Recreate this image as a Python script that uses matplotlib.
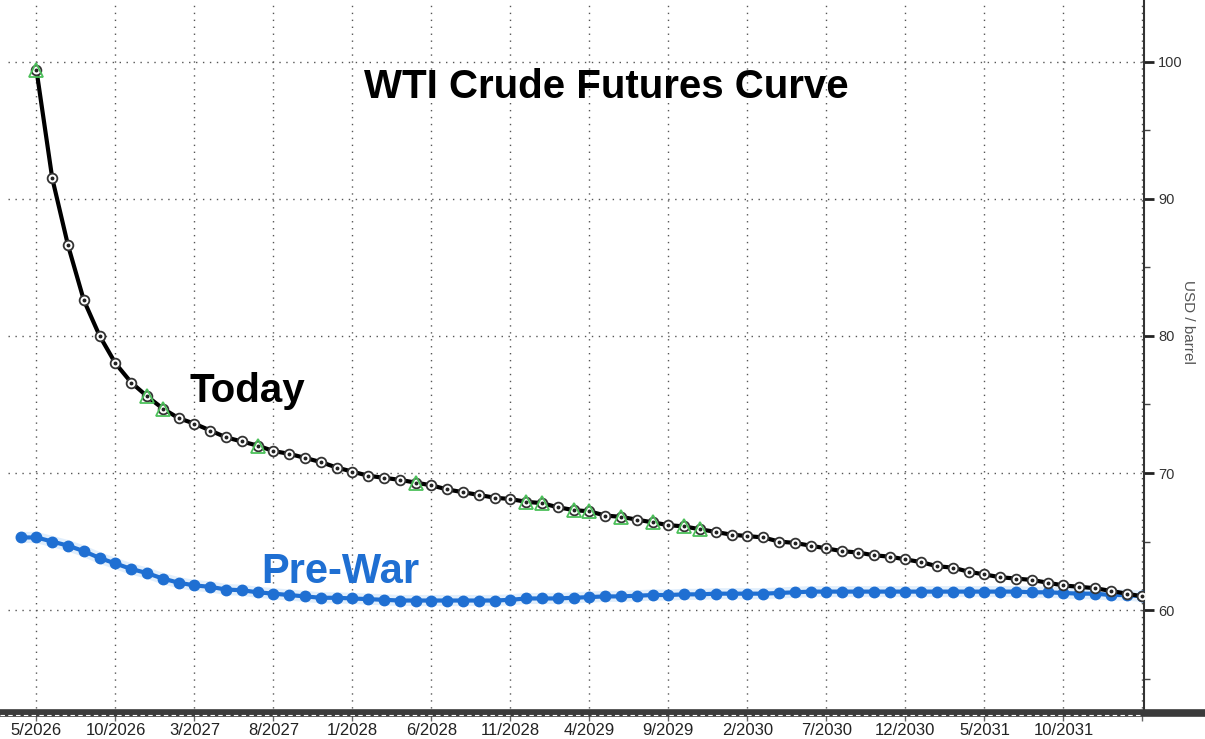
import numpy as np
import matplotlib.pyplot as plt
from matplotlib.lines import Line2D

plt.rcParams['font.family'] = ['Liberation Sans', 'DejaVu Sans']

# month index: 0 = 5/2026, monthly contracts
tick_labels = ["5/2026", "10/2026", "3/2027", "8/2027", "1/2028", "6/2028",
               "11/2028", "4/2029", "9/2029", "2/2030", "7/2030", "12/2030",
               "5/2031", "10/2031", ""]

today = [99.4, 91.5, 86.6, 82.6, 80.0, 78.0, 76.6, 75.6, 74.7, 74.0,
         73.6, 73.1, 72.6, 72.3, 72.0, 71.6, 71.4, 71.1, 70.8, 70.4,
         70.1, 69.8, 69.65, 69.5, 69.3, 69.1, 68.8, 68.6, 68.4, 68.2,
         68.1, 67.9, 67.8, 67.5, 67.3, 67.2, 66.9, 66.8, 66.6, 66.4,
         66.2, 66.1, 65.9, 65.7, 65.5, 65.4, 65.3, 65.0, 64.9, 64.7,
         64.5, 64.3, 64.2, 64.0, 63.9, 63.7, 63.5, 63.2, 63.1, 62.8,
         62.6, 62.4, 62.3, 62.2, 62.0, 61.8, 61.7, 61.6, 61.4, 61.2,
         61.0]

# pre-war curve starts one month earlier (4/2026)
prewar = [65.3, 65.3, 65.0, 64.7, 64.3, 63.8, 63.4, 63.0, 62.7, 62.3,
          62.0, 61.8, 61.7, 61.5, 61.45, 61.3, 61.2, 61.1, 61.0, 60.9,
          60.9, 60.85, 60.8, 60.75, 60.7, 60.7, 60.7, 60.7, 60.7, 60.7,
          60.7, 60.75, 60.85, 60.85, 60.85, 60.9, 60.95, 61.0, 61.0, 61.05,
          61.1, 61.1, 61.15, 61.15, 61.2, 61.2, 61.2, 61.2, 61.25, 61.3,
          61.35, 61.35, 61.35, 61.35, 61.35, 61.35, 61.35, 61.35, 61.35, 61.35,
          61.35, 61.35, 61.35, 61.35, 61.3, 61.3, 61.25, 61.2, 61.2, 61.1,
          61.1, 61.0]

# contracts flagged with green triangles
flagged = [0, 7, 8, 14, 24, 31, 32, 34, 35, 37, 39, 41, 42]

x_today = np.arange(len(today))
x_pre = np.arange(len(prewar)) - 1
today = np.array(today)

BLUE = '#1f6fd2'

fig = plt.figure(figsize=(12.05, 7.39), dpi=100)
ax = fig.add_axes([8 / 1205, 24 / 739, 1136 / 1205, 715 / 739])

# grid
grid_kw = dict(color='#555555', linewidth=1.0, linestyle=(0, (1, 4)))
ax.set_xticks(np.arange(0, 71, 5))
ax.set_xticklabels(tick_labels)
ax.grid(True, **grid_kw)
ax.set_axisbelow(True)

# pre-war curve (with soft glow)
ax.plot(x_pre, prewar, color='#9cc8f5', linewidth=8, alpha=0.3,
        solid_capstyle='round', zorder=2)
ax.plot(x_pre, prewar, color=BLUE, linewidth=3, marker='o', markersize=7.5,
        markerfacecolor=BLUE, markeredgecolor=BLUE, zorder=3)

# today curve
ax.plot(x_today, today, color='black', linewidth=3, zorder=4)
ax.plot(x_today, today, linestyle='none', marker='o', markersize=7,
        markerfacecolor='white', markeredgecolor='#333333',
        markeredgewidth=1.3, zorder=5)
ax.plot(x_today, today, linestyle='none', marker='o', markersize=1.8,
        color='#222222', zorder=6)
ax.plot(x_today[flagged], today[flagged], linestyle='none', marker='^',
        markersize=10, markerfacecolor='none', markeredgecolor='#4cc05a',
        markeredgewidth=1.3, zorder=7)

ax.set_xlim(-1.8, 70.1)
ax.set_ylim(52.35, 104.5)

# right-hand axis
ax.yaxis.tick_right()
ax.yaxis.set_label_position('right')
ax.set_yticks([60, 70, 80, 90, 100])
ax.set_yticks(np.arange(55, 105, 10), minor=True)
ax.tick_params(axis='y', which='major', length=7, width=2, color='#222222',
               labelsize=10.5, labelcolor='#333333', pad=3)
ax.tick_params(axis='y', which='minor', length=4, width=1, color='#444444')
ax.set_ylabel('USD / barrel', rotation=270, fontsize=11, color='#555555',
              labelpad=28)
ax.yaxis.set_label_coords(1.045, 0.55)

ax.tick_params(axis='x', length=4, width=1, color='#666666', labelsize=12,
               labelcolor='#222222', pad=2)

for side in ['top', 'left']:
    ax.spines[side].set_visible(False)
ax.spines['right'].set_color('#333333')
ax.spines['right'].set_linewidth(1.5)
ax.spines['bottom'].set_visible(False)

# heavy bottom bar across the full width, with dashed white line
ybar = 24 / 739
fig.add_artist(Line2D([0, 1], [ybar + 0.003, ybar + 0.003],
                      transform=fig.transFigure, color='#3a3a3a',
                      linewidth=5.5, solid_capstyle='butt'))
fig.add_artist(Line2D([0, 1140 / 1205], [ybar + 0.0005, ybar + 0.0005],
                      transform=fig.transFigure, color='white',
                      linewidth=0.8, linestyle=(0, (4, 3))))

# annotations
ax.text(0.527, 0.878, 'WTI Crude Futures Curve', transform=ax.transAxes,
        fontsize=29, fontweight='bold', ha='center', va='center')
ax.text(9.7, 76.0, 'Today', fontsize=29, fontweight='bold',
        ha='left', va='center', color='black')
ax.text(14.2, 62.8, 'Pre-War', fontsize=30, fontweight='bold',
        ha='left', va='center', color=BLUE)

fig.savefig('out.png', dpi=100)
